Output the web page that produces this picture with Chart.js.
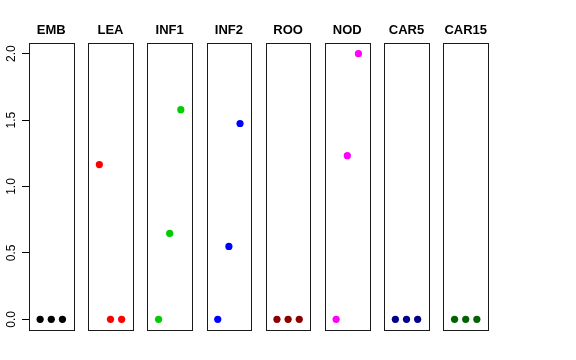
<!DOCTYPE html>
<html>
<head>
<meta charset="utf-8">
<script src="https://cdn.jsdelivr.net/npm/chart.js@4"></script>
<style>
  html, body { margin: 0; padding: 0; background: #ffffff; }
  #wrap { width: 576px; height: 360px; position: relative; }
</style>
</head>
<body>
<div id="wrap"><canvas id="chart"></canvas></div>
<script>
// Panels (tissues) and their point colours
const panels = ['EMB', 'LEA', 'INF1', 'INF2', 'ROO', 'NOD', 'CAR5', 'CAR15'];
const panelColors = ['#000000', '#ff0000', '#00cd00', '#0000ff', '#8b0000', '#ff00ff', '#00008b', '#006400'];

// Three values per panel, at positions 1, 2, 3
const positions = [1, 2, 3];
const embValues = [0, 0, 0];
const leaValues = [1.165, 0, 0];
const inf1Values = [0, 0.647, 1.578];
const inf2Values = [0, 0.549, 1.474];
const rooValues = [0, 0, 0];
const nodValues = [0, 1.232, 2.0];
const car5Values = [0, 0, 0];
const car15Values = [0, 0, 0];
const panelValues = [embValues, leaValues, inf1Values, inf2Values, rooValues, nodValues, car5Values, car15Values];

const yTicks = [0, 0.5, 1.0, 1.5, 2.0];

// Each panel spans 4 x-units (0..4), panels separated by a gap
const panelWidth = 4;
const panelStep = 5.312;
const xMax = panelStep * (panels.length - 1) + panelWidth;

const datasets = panels.map((name, i) => ({
    label: name,
    data: positions.map((p, j) => ({ x: i * panelStep + p, y: panelValues[i][j] })),
    pointRadius: 3.6,
    pointHoverRadius: 3.6,
    pointBorderWidth: 0,
    pointBackgroundColor: panelColors[i],
    backgroundColor: panelColors[i],
    showLine: false,
}));

// Draws the panel boxes and the panel titles
const panelPlugin = {
    id: 'panels',
    beforeDatasetsDraw(chart) {
        const { ctx, chartArea, scales: { x } } = chart;
        ctx.save();
        ctx.strokeStyle = '#1a1a1a';
        ctx.lineWidth = 1;
        panels.forEach((name, i) => {
            const l = Math.round(x.getPixelForValue(i * panelStep)) + 0.5;
            const r = Math.round(x.getPixelForValue(i * panelStep + panelWidth)) + 0.5;
            ctx.strokeRect(l, Math.round(chartArea.top) + 0.5, r - l, Math.round(chartArea.bottom - chartArea.top));
        });
        ctx.restore();
    },
    afterDraw(chart) {
        const { ctx, chartArea, scales: { x } } = chart;
        ctx.save();
        ctx.fillStyle = '#000000';
        ctx.font = 'bold 13px "Liberation Sans", Arial, sans-serif';
        ctx.textAlign = 'center';
        ctx.textBaseline = 'alphabetic';
        panels.forEach((name, i) => {
            const cx = x.getPixelForValue(i * panelStep + panelWidth / 2);
            ctx.fillText(name, cx, chartArea.top - 9);
        });
        ctx.restore();
    }
};

new Chart(document.getElementById('chart'), {
    type: 'scatter',
    data: { datasets },
    plugins: [panelPlugin],
    options: {
        responsive: true,
        maintainAspectRatio: false,
        animation: false,
        layout: { padding: { top: 43, bottom: 30, left: 0, right: 88 } },
        plugins: {
            legend: { display: false },
            tooltip: { enabled: false },
        },
        scales: {
            x: {
                type: 'linear',
                display: false,
                min: 0,
                max: xMax,
            },
            y: {
                type: 'linear',
                min: -0.08,
                max: 2.08,
                afterBuildTicks: (scale) => { scale.ticks = yTicks.map(v => ({ value: v })); },
                afterFit: (scale) => { scale.width = 29; },
                border: { display: false },
                grid: {
                    display: true,
                    drawOnChartArea: false,
                    drawTicks: true,
                    tickLength: 7,
                    color: '#000000',
                    lineWidth: 1,
                },
                ticks: {
                    color: '#000000',
                    font: { family: '"Liberation Sans", Arial, sans-serif', size: 12 },
                    minRotation: 90,
                    maxRotation: 90,
                    crossAlign: 'center',
                    padding: 2,
                    callback: (v) => Number(v).toFixed(1),
                },
            },
        },
    },
});
</script>
</body>
</html>
